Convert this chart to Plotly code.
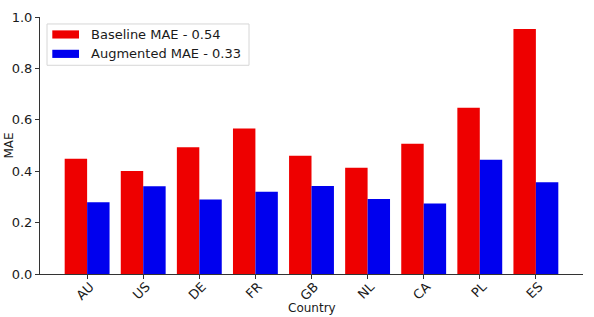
import plotly.graph_objects as go

countries = ["AU", "US", "DE", "FR", "GB", "NL", "CA", "PL", "ES"]
baseline_mae = [0.448, 0.401, 0.493, 0.566, 0.460, 0.413, 0.507, 0.647, 0.953]
augmented_mae = [0.279, 0.341, 0.290, 0.320, 0.342, 0.292, 0.274, 0.445, 0.357]
baseline_label = "Baseline MAE - 0.54"
augmented_label = "Augmented MAE - 0.33"
y_ticks = [0.0, 0.2, 0.4, 0.6, 0.8, 1.0]

RED = "#ee0000"
BLUE = "#0000ee"
FONT = "DejaVu Sans"

W, H = 594, 317
ML, MR, MT, MB = 40, 11, 9.5, 42.5
PW, PH = W - ML - MR, H - MT - MB


def px(x):
    return (x - ML) / PW


def py(y):
    return 1 - (y - MT) / PH


fig = go.Figure()
fig.add_trace(go.Bar(x=countries, y=baseline_mae, name=baseline_label,
                     marker=dict(color=RED, line=dict(width=0)), showlegend=False))
fig.add_trace(go.Bar(x=countries, y=augmented_mae, name=augmented_label,
                     marker=dict(color=BLUE, line=dict(width=0)), showlegend=False))

# legend (box, patches, labels)
shapes = [
    dict(type="rect", xref="paper", yref="paper", x0=px(47), x1=px(249),
         y0=py(59.3), y1=py(16.7), line=dict(color="#d6d6d6", width=1),
         fillcolor="rgba(255,255,255,0.8)", layer="above"),
    dict(type="rect", xref="paper", yref="paper", x0=px(52.3), x1=px(79),
         y0=py(31.7), y1=py(23.3), line=dict(width=0), fillcolor=RED, layer="above"),
    dict(type="rect", xref="paper", yref="paper", x0=px(52.3), x1=px(79),
         y0=py(51.7), y1=py(43.3), line=dict(width=0), fillcolor=BLUE, layer="above"),
]
annotations = [
    dict(text=baseline_label, x=px(89), y=py(27.5), xref="paper", yref="paper",
         xanchor="left", yanchor="middle", showarrow=False,
         font=dict(size=13, family=FONT, color="#1a1a1a")),
    dict(text=augmented_label, x=px(89), y=py(47.5), xref="paper", yref="paper",
         xanchor="left", yanchor="middle", showarrow=False,
         font=dict(size=13, family=FONT, color="#1a1a1a")),
    dict(text="Country", x=0.5, y=0, xref="paper", yref="paper",
         yshift=-34, xanchor="center", yanchor="middle", showarrow=False,
         font=dict(size=12, family=FONT, color="#1a1a1a")),
    dict(text="MAE", x=0, y=0.5, xref="paper", yref="paper",
         xshift=-32, xanchor="center", yanchor="middle", showarrow=False,
         textangle=-90, font=dict(size=12, family=FONT, color="#1a1a1a")),
]

fig.update_layout(
    width=W, height=H, autosize=False,
    margin=dict(l=ML, r=MR, t=MT, b=MB),
    paper_bgcolor="white", plot_bgcolor="white",
    barmode="group", bargap=0.2, bargroupgap=0,
    font=dict(family=FONT, color="#1a1a1a", size=13),
    showlegend=False,
    shapes=shapes,
    annotations=annotations,
)
fig.update_xaxes(type="category", range=[-0.84, 8.84], tickangle=-45,
                 showline=True, linecolor="#333", linewidth=1,
                 ticks="outside", ticklen=4, tickcolor="#333",
                 showgrid=False, zeroline=False,
                 ticklabelshift=3, ticklabelstandoff=-5,
                 tickfont=dict(size=13, family=FONT, color="#1a1a1a"))
fig.update_yaxes(range=[0, 1.0], tickvals=y_ticks, tickformat=".1f",
                 showline=True, linecolor="#333", linewidth=1,
                 ticks="outside", ticklen=4, tickcolor="#333",
                 showgrid=False, zeroline=False,
                 tickfont=dict(size=13, family=FONT, color="#1a1a1a"))

fig.write_html("out.html")
